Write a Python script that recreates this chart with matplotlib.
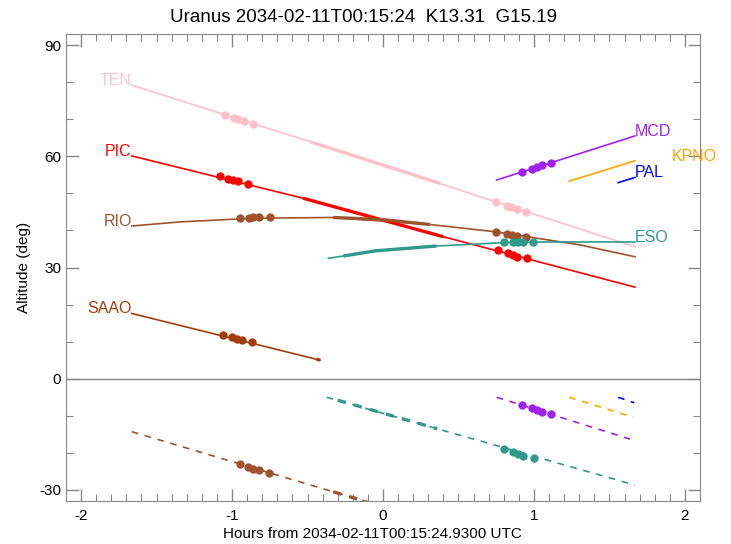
import matplotlib
matplotlib.use('Agg')
import matplotlib.pyplot as plt
from matplotlib.ticker import MultipleLocator

plt.rcParams['font.family'] = ['Liberation Sans', 'DejaVu Sans']
plt.rcParams['axes.unicode_minus'] = False

# station tracks above horizon: (hours, altitude)
ten_h = [-1.664, -0.48, 1.669]
ten_alt = [79.2, 63.9, 35.6]
pic_h = [-1.664, -0.53, 0.40, 1.669]
pic_alt = [60.1, 48.7, 38.3, 24.7]
rio_h = [-1.664, -1.344, -0.859, -0.33, 0.311, 0.753, 1.305, 1.669]
rio_alt = [41.2, 42.3, 43.3, 43.5, 41.6, 39.6, 36.1, 32.9]
eso_h = [-0.362, -0.263, -0.05, 0.355, 0.797, 1.084, 1.669]
eso_alt = [32.5, 33.1, 34.5, 35.8, 36.7, 36.9, 36.9]
mcd_h = [0.753, 1.669]
mcd_alt = [53.6, 65.5]
kpno_h = [1.234, 1.669]
kpno_alt = [53.3, 58.8]
pal_h = [1.558, 1.669]
pal_alt = [52.9, 54.3]
saao_h = [-1.664, -0.417]
saao_alt = [17.6, 5.0]

# thick (observable) parts
ten_thick_h = [-0.48, 0.377]
ten_thick_alt = [63.9, 52.7]
pic_thick_h = [-0.53, 0.40]
pic_thick_alt = [48.7, 38.3]
rio_thick_h = [-0.33, 0.0, 0.311]
rio_thick_alt = [43.5, 42.9, 41.6]
eso_thick_h = [-0.263, -0.05, 0.355]
eso_thick_alt = [33.1, 34.5, 35.8]
saao_thick_h = [-0.44, -0.417]
saao_thick_alt = [5.3, 5.0]

# dots
ten_dot_h = [-1.05, -0.99, -0.96, -0.92, -0.86, 0.75, 0.82, 0.85, 0.89, 0.95]
ten_dot_alt = [71.2, 70.4, 70.0, 69.5, 68.7, 47.6, 46.7, 46.3, 45.8, 45.0]
pic_dot_h = [-1.079, -1.024, -0.991, -0.958, -0.892, 0.764, 0.830, 0.863, 0.889, 0.951]
pic_dot_alt = [54.7, 54.0, 53.6, 53.3, 52.5, 34.7, 33.8, 33.4, 32.9, 32.5]
rio_dot_h = [-0.95, -0.89, -0.86, -0.82, -0.75, 0.748, 0.819, 0.852, 0.885, 0.945]
rio_dot_alt = [43.4, 43.4, 43.5, 43.5, 43.5, 39.6, 39.0, 38.8, 38.6, 38.3]
eso_dot_h = [0.801, 0.863, 0.896, 0.929, 0.995]
eso_dot_alt = [36.8, 36.8, 36.9, 36.9, 37.0]
mcd_dot_h = [0.918, 0.985, 1.018, 1.051, 1.111]
mcd_dot_alt = [55.8, 56.7, 57.2, 57.6, 58.3]
saao_dot_h = [-1.058, -1.002, -0.969, -0.936, -0.870]
saao_dot_alt = [11.8, 11.2, 10.7, 10.4, 9.8]

# dashed tracks below horizon
rio_neg_h = [-1.664, -0.108]
rio_neg_alt = [-14.3, -33.2]
rio_neg_thick_h = [-0.33, -0.108]
rio_neg_thick_alt = [-30.5, -33.2]
rio_neg_dot_h = [-0.947, -0.892, -0.858, -0.821, -0.755]
rio_neg_dot_alt = [-23.0, -23.7, -24.3, -24.6, -25.4]
eso_neg_h = [-0.373, 1.669]
eso_neg_alt = [-5.0, -28.7]
eso_neg_thick_h = [-0.30, 0.36]
eso_neg_thick_alt = [-5.8, -13.5]
eso_neg_dot_h = [0.801, 0.863, 0.896, 0.929, 1.0]
eso_neg_dot_alt = [-19.0, -19.8, -20.3, -20.8, -21.3]
mcd_neg_h = [0.753, 1.636]
mcd_neg_alt = [-5.0, -16.3]
mcd_neg_dot_h = [0.918, 0.989, 1.022, 1.055, 1.111]
mcd_neg_dot_alt = [-7.1, -8.0, -8.4, -8.9, -9.6]
kpno_neg_h = [1.234, 1.658]
kpno_neg_alt = [-5.0, -10.4]
pal_neg_h = [1.558, 1.665]
pal_neg_alt = [-5.0, -6.5]

c_ten = '#FFC0CB'
c_pic = '#FF0000'
c_rio = '#A0522D'
c_eso = '#2E9A8C'
c_mcd = '#A020F0'
c_kpno = '#FFA500'
c_pal = '#0000FF'
c_saao = '#A33B0A'

fig = plt.figure(figsize=(7.31, 5.44), dpi=100)
ax = fig.add_axes([0.0903, 0.079, 0.8673, 0.8585])

ax.axhline(0, color='#888888', lw=1.0)

lw = 1.2
tw = 2.4
ms = 6

for h, a, c in [(ten_h, ten_alt, c_ten), (pic_h, pic_alt, c_pic), (rio_h, rio_alt, c_rio),
                (eso_h, eso_alt, c_eso), (mcd_h, mcd_alt, c_mcd), (kpno_h, kpno_alt, c_kpno),
                (pal_h, pal_alt, c_pal), (saao_h, saao_alt, c_saao)]:
    ax.plot(h, a, color=c, lw=lw)

for h, a, c in [(ten_thick_h, ten_thick_alt, c_ten), (pic_thick_h, pic_thick_alt, c_pic),
                (rio_thick_h, rio_thick_alt, c_rio), (eso_thick_h, eso_thick_alt, c_eso),
                (saao_thick_h, saao_thick_alt, c_saao)]:
    ax.plot(h, a, color=c, lw=tw, solid_capstyle='butt')

for h, a, c in [(ten_dot_h, ten_dot_alt, c_ten), (pic_dot_h, pic_dot_alt, c_pic),
                (rio_dot_h, rio_dot_alt, c_rio), (eso_dot_h, eso_dot_alt, c_eso),
                (mcd_dot_h, mcd_dot_alt, c_mcd), (saao_dot_h, saao_dot_alt, c_saao),
                (rio_neg_dot_h, rio_neg_dot_alt, c_rio), (eso_neg_dot_h, eso_neg_dot_alt, c_eso),
                (mcd_neg_dot_h, mcd_neg_dot_alt, c_mcd)]:
    ax.plot(h, a, 'o', color=c, ms=ms, mec='none')

for h, a, c in [(rio_neg_h, rio_neg_alt, c_rio), (eso_neg_h, eso_neg_alt, c_eso),
                (mcd_neg_h, mcd_neg_alt, c_mcd), (kpno_neg_h, kpno_neg_alt, c_kpno),
                (pal_neg_h, pal_neg_alt, c_pal)]:
    ax.plot(h, a, color=c, lw=lw, dashes=(4, 4))

for h, a, c in [(rio_neg_thick_h, rio_neg_thick_alt, c_rio),
                (eso_neg_thick_h, eso_neg_thick_alt, c_eso)]:
    ax.plot(h, a, color=c, lw=tw, dashes=(2.5, 2.5))

fs = 11.5
ax.text(ten_h[0], ten_alt[0], 'TEN', color=c_ten, ha='right', va='baseline', fontsize=fs)
ax.text(pic_h[0], pic_alt[0], 'PIC', color=c_pic, ha='right', va='baseline', fontsize=fs)
ax.text(rio_h[0], rio_alt[0], 'RIO', color=c_rio, ha='right', va='baseline', fontsize=fs)
ax.text(saao_h[0], saao_alt[0], 'SAAO', color=c_saao, ha='right', va='baseline', fontsize=fs)
ax.text(mcd_h[-1], mcd_alt[-1], 'MCD', color=c_mcd, ha='left', va='baseline', fontsize=fs)
ax.text(eso_h[-1], eso_alt[-1], 'ESO', color=c_eso, ha='left', va='baseline', fontsize=fs)
ax.text(pal_h[-1], pal_alt[-1], 'PAL', color=c_pal, ha='left', va='baseline', fontsize=fs)
ax.text(1.914, kpno_alt[-1], 'KPNO', color=c_kpno, ha='left', va='baseline', fontsize=fs,
        clip_on=False)

ax.set_xlim(-2.1, 2.1)
ax.set_ylim(-33, 93)
ax.xaxis.set_major_locator(MultipleLocator(1))
ax.xaxis.set_minor_locator(MultipleLocator(0.1))
ax.yaxis.set_major_locator(MultipleLocator(30))
ax.yaxis.set_minor_locator(MultipleLocator(10))
ax.tick_params(which='both', direction='in', top=True, right=True, color='#888888',
               labelsize=11)
ax.tick_params(which='major', length=9, width=1)
ax.tick_params(which='minor', length=5, width=0.8)
ax.tick_params(axis='x', which='major', pad=6)
for s in ax.spines.values():
    s.set_color('#888888')

fig.text(0.497, 0.967, 'Uranus 2034-02-11T00:15:24  K13.31  G15.19', fontsize=13.5,
         ha='center', va='center')
ax.set_xlabel('Hours from 2034-02-11T00:15:24.9300 UTC', fontsize=11)
ax.xaxis.set_label_coords(0.483, -0.055, transform=ax.transAxes)
ax.xaxis.label.set_va('top')
ax.set_ylabel('Altitude (deg)', fontsize=11, labelpad=6)

fig.savefig('out.png', dpi=100)
